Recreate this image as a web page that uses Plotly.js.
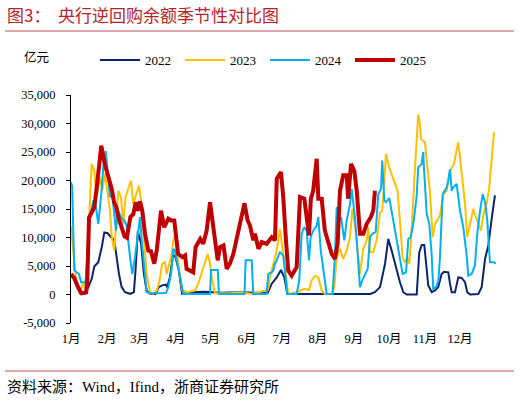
<!DOCTYPE html>
<html>
<head>
<meta charset="utf-8" />
<script src="https://cdn.plot.ly/plotly-3.0.1.min.js"></script>
<style>
  html, body { margin: 0; padding: 0; background: #fff; }
  #chart { width: 520px; height: 402px; }
</style>
</head>
<body>
<div id="chart"></div>
<script>
  // 月份刻度（年内第几天）
  const monthStarts = [1, 32, 60, 91, 121, 152, 182, 213, 244, 274, 305, 335];
  const monthLabels = ["1月", "2月", "3月", "4月", "5月", "6月", "7月", "8月", "9月", "10月", "11月", "12月"];
  const yTicks = [-5000, 0, 5000, 10000, 15000, 20000, 25000, 30000, 35000];
  const yTickText = ["-5,000", "0", "5,000", "10,000", "15,000", "20,000", "25,000", "30,000", "35,000"];

  // 2022
  const d2022 = [1,3,6,8.7,13,15.9,18.8,21,24.4,27.4,29.6,32.5,35.4,38.2,40.2,42.2,44.5,47.4,51.7,55,56.4,58.4,61.2,63.6,65.9,69.3,73.6,76.4,79.3,82.2,83.6,85.9,88.7,90.8,93.6,96.4,103,116,129,146,163,170,173.4,177.7,181.3,184.2,186.8,197.7,223,258,262,266.4,270.7,273.5,276.4,280.7,283.5,286.4,289.3,297.9,300.1,302.2,304.4,305.9,307.8,310.8,313.6,316.4,319.3,321.3,325,326.5,327.9,330.8,333.6,336.5,339.4,341.3,343.7,350.8,353.7,356.6,359.4,362.3,365.1];
  const v2022 = [3500,3000,1500,230,150,1300,2750,4900,5650,8300,10900,10750,10050,9500,6550,3600,1300,400,120,400,4200,11100,8900,3600,700,120,100,1300,1600,1750,1300,3000,7000,6550,4200,120,400,500,300,400,300,300,1900,3000,4300,3000,100,100,100,100,400,1300,5400,9750,7700,4200,2150,400,0,0,7400,8700,8700,5650,1600,400,700,1300,3600,4000,3900,1900,400,400,3000,2900,2150,400,0,100,1300,6250,8600,13300,17400];

  // 2023
  const d2023 = [1,5.9,8.7,11.6,13.6,15.9,18.8,21,23,25.9,27.9,30.2,31.7,34.5,36,38.2,40.2,41.6,43.9,45.9,47.9,51.7,52.5,54.5,57.4,59.4,61.1,63.1,66,68.8,71.7,74.6,76.8,79.4,81.7,83.2,85.2,87.5,88.9,90.3,93.1,96.5,100.7,107.5,110.3,113.2,116.1,118.4,120.4,122.3,124.7,137.5,147.6,156.2,170.1,171.9,174.7,177.7,180.5,183.3,186.2,187.6,194.8,197.7,201.4,205.4,207.7,210.5,213.4,216.3,219.1,224.9,227.1,229.2,232,234.8,237.8,240.6,242.6,245.3,249.2,252,255,256.3,257.8,260.6,263.5,266.4,268.3,270.1,271.5,274.3,278.6,281.4,283.5,285.8,287.8,289.8,291.5,293.5,295.8,297.8,299.2,300.7,301.5,304.9,306.9,309.2,311.6,313.6,315.6,317.9,320.8,323.7,326.5,329.9,332.3,333.6,334.5,336.5,339.4,341.3,343.7,346.5,348.8,350.8,353.1,355.1,358,360.2,362.3,364.3];
  const v2023 = [12000,1500,400,2150,1000,11200,22900,21700,17100,20600,18200,21200,19100,14700,10050,7700,13600,18200,17100,12400,17100,19400,20000,15900,17900,19100,16500,10650,3600,400,120,700,2150,5400,5650,3600,5400,7100,9500,10500,5700,700,400,700,1900,3600,5650,7100,5400,2450,230,200,400,100,800,3000,5400,7700,11500,7100,1900,100,400,700,1000,800,2450,3300,3000,700,100,100,1300,6550,8000,6250,7700,10050,15000,11500,3600,8000,9500,11800,7400,7400,9500,14400,14700,19700,24700,22300,19600,18200,13000,6550,5650,6550,5400,11200,20000,26400,31600,29900,27300,26700,22300,18200,10050,12400,13000,13900,17600,18200,21700,22900,25500,26700,25200,21200,15900,10050,12400,15000,13600,12400,11200,13900,15900,18800,23500,28500];

  // 2024
  const d2024 = [1,2,3.8,5.9,7.9,9.6,13.5,17.3,20.2,22.2,24.4,26.8,28.7,30.8,32.5,34.5,36.5,38.2,39.6,41.6,44.5,46.8,48.8,51.7,53.6,56,58.3,60.3,61.7,63.9,66,68.8,77.4,82.6,84.6,86.9,88.9,90.3,91.8,94.6,97.4,120.4,121.2,127,128.1,150,151,156.2,157.5,169,170.4,173.4,174.7,176.2,177.7,179.6,180.5,183.3,184.8,186.8,194.8,197,199.1,201.1,203.4,205.4,206.8,209.1,212,213.4,215.5,218.3,220.6,225.7,227.7,229.2,231.2,232.9,235.7,237.8,240.6,242.1,244.9,247.2,249.2,251.2,253.5,255.8,257.8,259.8,262.7,264.9,267.2,268.3,270.1,271.5,274.4,277.8,282.1,285.8,288.7,290.7,292.7,295,297.8,299.2,302.2,303.5,304.1,306.5,308.7,310.7,312.1,314.5,316.5,317.9,320.2,322.2,323.7,325,326.5,327.9,329.3,332.2,335.1,337.9,340.8,342.2,345.1,347.9,349.9,352.3,354.6,356.6,358.5,360.8,363.7,366];
  const v2024 = [19700,19000,4200,3900,3600,2150,2200,13600,16500,15600,12400,17100,22300,25200,21700,17100,17400,13600,11200,14700,13300,13000,12100,6550,3600,6550,10050,13600,9500,4200,400,230,230,250,1300,3600,8000,7700,6000,3000,100,100,4300,4300,100,100,6000,6000,100,100,3600,3900,4200,5400,6000,7100,7400,6850,3600,100,100,2450,10650,11800,11200,6000,10050,11200,12100,13600,7700,3500,100,100,7100,15300,13000,13600,9500,13000,15900,18500,13500,7100,1300,2500,3500,4500,10050,10650,11000,17600,18500,23500,16500,16200,16900,13000,8000,3600,3900,9750,10050,12400,17100,22300,22900,25000,22300,14100,12400,7100,1000,1300,2450,6550,17600,18200,18800,20000,22000,18200,18800,19400,14700,11800,6850,3300,3600,5100,10650,14700,17600,16200,13000,5650,5650,5500];

  // 2025
  const d2025 = [1,4,7,10,14,15,16.5,19,21,23,27,30,33,36,38,40,41.6,44.5,47,49,52,54.5,56.6,58.3,60.3,62.2,64.6,67.4,69.7,72.5,74.6,78.3,81.1,84.6,87,89.7,93,96.6,99,100.3,103.2,106,108,112,114.6,117.5,120.4,123.2,127,129,132,134.7,137.5,140.4,143.3,146,150,152.7,154.7,157.6,159,162,164.8,169,173.4,176.2,177.7,181.3,183.3,185.6,187.6,190.5,194.8,197.7,201.4,205.4,207,209,212,213.4,216.3,219,222,225,227.7,230,232,234.8,237.8,239,241.5,244.3,246.4,249.2,252,255,258.6,260.6,262];
  const v2025 = [3600,2800,1300,230,400,2450,13500,14700,15300,18600,26100,22900,20600,18500,16200,15300,13600,11800,10200,9950,13600,14100,16200,14700,16300,14700,10650,7700,7600,5400,7700,14700,11800,13300,13000,13000,7100,6550,6850,4500,4200,3900,8300,9750,8900,11200,16200,11800,6000,8300,8600,4500,5400,7100,9750,11800,16000,13000,12100,9500,10650,8000,9200,8900,10050,9500,20300,21500,17100,9500,4200,3300,4800,17100,16800,10350,16800,18200,23800,16800,16800,11200,8900,7100,6250,8900,18200,20900,20900,16800,22900,21700,18200,10650,10650,12400,13600,14700,18200];

  const serif = "Times New Roman, Liberation Serif, Noto Sans CJK SC, serif";

  function serie(name, x, y, color, width) {
    return {
      x: x,
      y: y,
      name: name,
      type: "scatter",
      mode: "lines",
      line: { color: color, width: width },
      hoverinfo: "none",
    };
  }

  const traces = [
    serie("2022", d2022, v2022, "#0c2468", 2),
    serie("2023", d2023, v2023, "#ffc000", 2),
    serie("2024", d2024, v2024, "#00b0f0", 2),
    serie("2025", d2025, v2025, "#c00000", 4),
  ];

  const layout = {
    width: 520,
    height: 402,
    margin: { l: 71, r: 24, t: 95, b: 79 },
    paper_bgcolor: "white",
    plot_bgcolor: "white",
    showlegend: true,
    font: { family: serif, size: 12, color: "#000" },
    title: {
      text: "图3：\u00a0\u00a0央行逆回购余额季节性对比图",
      x: 7 / 520,
      xref: "container",
      xanchor: "left",
      y: 1 - 16 / 402,
      yref: "container",
      yanchor: "middle",
      font: { family: "Noto Sans CJK SC", size: 17, color: "#b4242b" },
    },
    legend: {
      orientation: "h",
      xref: "container",
      yref: "container",
      x: 95 / 520,
      y: 1 - 60 / 402,
      xanchor: "left",
      yanchor: "middle",
      entrywidth: 30,
      entrywidthmode: "pixels",
      itemwidth: 40,
      font: { family: serif, size: 13 },
      bgcolor: "rgba(0,0,0,0)",
    },
    xaxis: {
      range: [1, 366],
      tickvals: monthStarts,
      ticktext: monthLabels,
      showline: false,
      showgrid: false,
      zeroline: false,
      ticks: "",
      ticklabelstandoff: 6,
      tickfont: { family: serif, size: 12.5 },
    },
    xaxis2: {
      overlaying: "x",
      range: [1, 366],
      anchor: "free",
      position: 0.125,
      tickvals: monthStarts,
      showticklabels: false,
      ticks: "outside",
      ticklen: 4,
      tickcolor: "#808080",
      showline: true,
      linecolor: "#808080",
      linewidth: 1,
      showgrid: false,
      zeroline: false,
    },
    yaxis: {
      range: [-5000, 35000],
      tickvals: yTicks,
      ticktext: yTickText,
      ticks: "outside",
      ticklen: 4,
      tickcolor: "#000",
      showline: true,
      linecolor: "#000",
      linewidth: 1,
      showgrid: false,
      zeroline: false,
      ticklabelstandoff: 8,
      tickfont: { family: serif, size: 12.5 },
    },
    annotations: [
      {
        text: "亿元",
        xref: "paper",
        yref: "paper",
        x: (22 - 71) / 425,
        y: (323 - 57) / 228,
        xanchor: "left",
        yanchor: "middle",
        showarrow: false,
        font: { family: "Noto Sans CJK SC", size: 12.5, color: "#000" },
      },
      {
        text: "资料来源：Wind，Ifind，浙商证券研究所",
        xref: "paper",
        yref: "paper",
        x: (5 - 71) / 425,
        y: (323 - 387) / 228,
        xanchor: "left",
        yanchor: "middle",
        showarrow: false,
        font: { family: serif, size: 15, color: "#000" },
      },
    ],
    shapes: [
      {
        type: "line",
        xref: "paper",
        yref: "paper",
        x0: (5 - 71) / 425,
        x1: (514 - 71) / 425,
        y0: (323 - 31) / 228,
        y1: (323 - 31) / 228,
        line: { color: "#c0504d", width: 1.2 },
      },
      {
        type: "line",
        xref: "paper",
        yref: "paper",
        x0: (5 - 71) / 425,
        x1: (514 - 71) / 425,
        y0: (323 - 371) / 228,
        y1: (323 - 371) / 228,
        line: { color: "#c0504d", width: 1.2 },
      },
    ],
  };

  Plotly.newPlot("chart", traces, layout, { staticPlot: true, displayModeBar: false });
</script>
</body>
</html>
